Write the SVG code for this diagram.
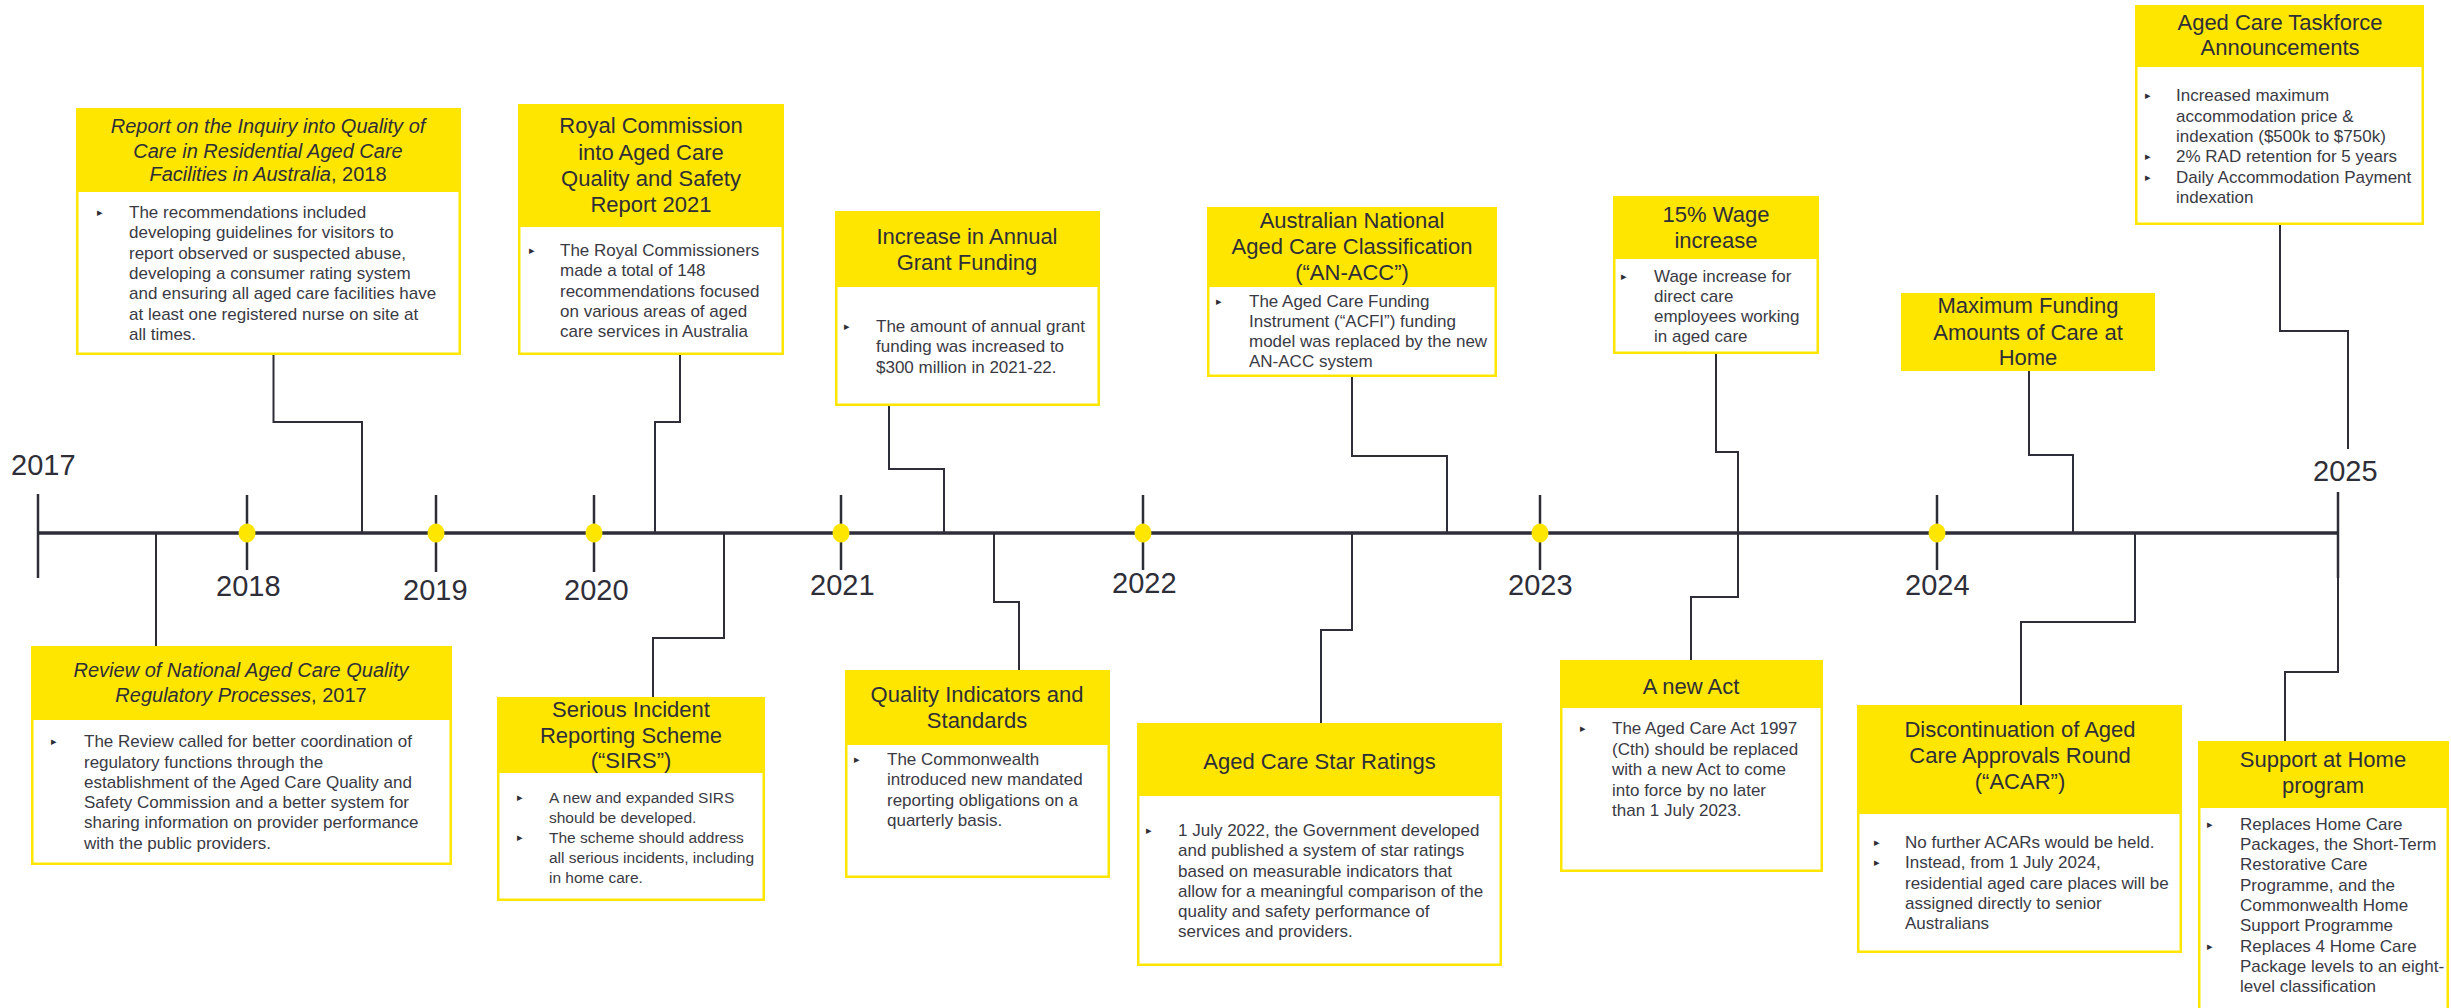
<svg xmlns="http://www.w3.org/2000/svg" width="2451" height="1008" viewBox="0 0 2451 1008">
<style>
.hdr{fill:#FFE600}
.bd{fill:#FFFFFF}
.t{font-family:"Liberation Sans",Arial,sans-serif;font-size:22px;fill:#2E2E38;text-anchor:middle}
.ti{font-family:"Liberation Sans",Arial,sans-serif;font-size:20px;fill:#2E2E38;text-anchor:middle;font-style:italic}
.b{font-family:"Liberation Sans",Arial,sans-serif;font-size:17px;fill:#3A3A44}
.bs{font-size:15.5px}
.bul{font-family:"DejaVu Sans",sans-serif;font-size:11px;fill:#2E2E38}
.yr{font-family:"Liberation Sans",Arial,sans-serif;font-size:29px;fill:#2E2E38}
.ln{fill:none;stroke:#2E2E38;stroke-width:2}
.axis{fill:none;stroke:#2E2E38;stroke-width:3.5}
.tick{fill:none;stroke:#2E2E38;stroke-width:2.5}
.dot{fill:#FFE600}
</style>
<rect width="2451" height="1008" fill="#FFFFFF"/>

<g id="timeline">
<line class="axis" x1="38" y1="533" x2="2338" y2="533"/>
<line class="tick" x1="38" y1="494" x2="38" y2="578"/>
<line class="tick" x1="2338" y1="492" x2="2338" y2="578"/>
<line class="tick" x1="247" y1="495" x2="247" y2="570"/>
<line class="tick" x1="436" y1="495" x2="436" y2="572"/>
<line class="tick" x1="594" y1="495" x2="594" y2="572"/>
<line class="tick" x1="841" y1="495" x2="841" y2="570"/>
<line class="tick" x1="1143" y1="495" x2="1143" y2="570"/>
<line class="tick" x1="1540" y1="495" x2="1540" y2="570"/>
<line class="tick" x1="1937" y1="495" x2="1937" y2="570"/>
<ellipse class="dot" cx="247" cy="533" rx="8.5" ry="9.5"/>
<ellipse class="dot" cx="436" cy="533" rx="8.5" ry="9.5"/>
<ellipse class="dot" cx="594" cy="533" rx="8.5" ry="9.5"/>
<ellipse class="dot" cx="841" cy="533" rx="8.5" ry="9.5"/>
<ellipse class="dot" cx="1143" cy="533" rx="8.5" ry="9.5"/>
<ellipse class="dot" cx="1540" cy="533" rx="8.5" ry="9.5"/>
<ellipse class="dot" cx="1937" cy="533" rx="8.5" ry="9.5"/>
<text class="yr" x="11" y="475">2017</text>
<text class="yr" x="216" y="596">2018</text>
<text class="yr" x="403" y="600">2019</text>
<text class="yr" x="564" y="600">2020</text>
<text class="yr" x="810" y="595">2021</text>
<text class="yr" x="1112" y="593">2022</text>
<text class="yr" x="1508" y="595">2023</text>
<text class="yr" x="1905" y="595">2024</text>
<text class="yr" x="2313" y="481">2025</text>
</g>

<g id="connectors">
<path class="ln" d="M273.5 355 V422 H362 V533"/>
<path class="ln" d="M680 355 V422 H655 V533"/>
<path class="ln" d="M889 406 V469 H944 V533"/>
<path class="ln" d="M1352 377 V456 H1447 V533"/>
<path class="ln" d="M1716 354 V452 H1738 V533"/>
<path class="ln" d="M2029 371 V455 H2073 V533"/>
<path class="ln" d="M2280 225 V331 H2348 V449"/>
<path class="ln" d="M156 533 V646"/>
<path class="ln" d="M724 533 V638 H653 V697"/>
<path class="ln" d="M994 533 V602 H1019 V670"/>
<path class="ln" d="M1352 533 V630 H1321 V723"/>
<path class="ln" d="M1738 533 V597 H1691 V660"/>
<path class="ln" d="M2135 533 V622 H2021 V705"/>
<path class="ln" d="M2338 533 V672 H2285 V741"/>
</g>

<g id="node-inquiry-2018">
<rect class="hdr" x="76" y="108" width="385" height="247"/>
<rect class="bd" x="78.5" y="192" width="380" height="160.5"/>
<text class="ti" x="268" y="133">Report on the Inquiry into Quality of</text>
<text class="ti" x="268" y="158">Care in Residential Aged Care</text>
<text class="ti" x="268" y="181">Facilities in Australia<tspan font-style="normal">, 2018</tspan></text>
<text class="bul" x="97" y="216">▸</text>
<text class="b" x="129"><tspan x="129" y="218">The recommendations included</tspan><tspan x="129" y="238">developing guidelines for visitors to</tspan><tspan x="129" y="259">report observed or suspected abuse,</tspan><tspan x="129" y="279">developing a consumer rating system</tspan><tspan x="129" y="299">and ensuring all aged care facilities have</tspan><tspan x="129" y="320">at least one registered nurse on site at</tspan><tspan x="129" y="340">all times.</tspan></text>
</g>

<g id="node-royal-commission">
<rect class="hdr" x="518" y="104" width="266" height="251"/>
<rect class="bd" x="520.5" y="227" width="261" height="125.5"/>
<text class="t" x="651" y="133">Royal Commission</text>
<text class="t" x="651" y="160">into Aged Care</text>
<text class="t" x="651" y="186">Quality and Safety</text>
<text class="t" x="651" y="212">Report 2021</text>
<text class="bul" x="529" y="254">▸</text>
<text class="b"><tspan x="560" y="256">The Royal Commissioners</tspan><tspan x="560" y="276">made a total of 148</tspan><tspan x="560" y="297">recommendations focused</tspan><tspan x="560" y="317">on various areas of aged</tspan><tspan x="560" y="337">care services in Australia</tspan></text>
</g>

<g id="node-grant-funding">
<rect class="hdr" x="835" y="211" width="265" height="195"/>
<rect class="bd" x="837.5" y="287" width="260" height="116.5"/>
<text class="t" x="967" y="244">Increase in Annual</text>
<text class="t" x="967" y="270">Grant Funding</text>
<text class="bul" x="844" y="330">▸</text>
<text class="b"><tspan x="876" y="332">The amount of annual grant</tspan><tspan x="876" y="352">funding was increased to</tspan><tspan x="876" y="373">$300 million in 2021-22.</tspan></text>
</g>

<g id="node-an-acc">
<rect class="hdr" x="1207" y="207" width="290" height="170"/>
<rect class="bd" x="1209.5" y="287" width="285" height="87.5"/>
<text class="t" x="1352" y="228">Australian National</text>
<text class="t" x="1352" y="254">Aged Care Classification</text>
<text class="t" x="1352" y="280">(“AN-ACC”)</text>
<text class="bul" x="1216" y="305">▸</text>
<text class="b"><tspan x="1249" y="307">The Aged Care Funding</tspan><tspan x="1249" y="327">Instrument (“ACFI”) funding</tspan><tspan x="1249" y="347">model was replaced by the new</tspan><tspan x="1249" y="367">AN-ACC system</tspan></text>
</g>

<g id="node-wage-increase">
<rect class="hdr" x="1613" y="196" width="206" height="158"/>
<rect class="bd" x="1615.5" y="259" width="201" height="92.5"/>
<text class="t" x="1716" y="222">15% Wage</text>
<text class="t" x="1716" y="248">increase</text>
<text class="bul" x="1621" y="280">▸</text>
<text class="b"><tspan x="1654" y="282">Wage increase for</tspan><tspan x="1654" y="302">direct care</tspan><tspan x="1654" y="322">employees working</tspan><tspan x="1654" y="342">in aged care</tspan></text>
</g>

<g id="node-max-funding">
<rect class="hdr" x="1901" y="293" width="254" height="78"/>
<text class="t" x="2028" y="313">Maximum Funding</text>
<text class="t" x="2028" y="340">Amounts of Care at</text>
<text class="t" x="2028" y="365">Home</text>
</g>

<g id="node-taskforce">
<rect class="hdr" x="2135" y="5" width="289" height="220"/>
<rect class="bd" x="2137.5" y="67" width="284" height="155.5"/>
<text class="t" x="2280" y="30">Aged Care Taskforce</text>
<text class="t" x="2280" y="55">Announcements</text>
<text class="bul" x="2145" y="99">▸</text>
<text class="bul" x="2145" y="160">▸</text>
<text class="bul" x="2145" y="181">▸</text>
<text class="b"><tspan x="2176" y="101">Increased maximum</tspan><tspan x="2176" y="122">accommodation price &amp;</tspan><tspan x="2176" y="142">indexation ($500k to $750k)</tspan><tspan x="2176" y="162">2% RAD retention for 5 years</tspan><tspan x="2176" y="183">Daily Accommodation Payment</tspan><tspan x="2176" y="203">indexation</tspan></text>
</g>

<g id="node-review-2017">
<rect class="hdr" x="31" y="646" width="421" height="219"/>
<rect class="bd" x="33.5" y="720" width="416" height="142.5"/>
<text class="ti" x="241" y="677">Review of National Aged Care Quality</text>
<text class="ti" x="241" y="702">Regulatory Processes<tspan font-style="normal">, 2017</tspan></text>
<text class="bul" x="51" y="745">▸</text>
<text class="b"><tspan x="84" y="747">The Review called for better coordination of</tspan><tspan x="84" y="768">regulatory functions through the</tspan><tspan x="84" y="788">establishment of the Aged Care Quality and</tspan><tspan x="84" y="808">Safety Commission and a better system for</tspan><tspan x="84" y="828">sharing information on provider performance</tspan><tspan x="84" y="849">with the public providers.</tspan></text>
</g>

<g id="node-sirs">
<rect class="hdr" x="497" y="697" width="268" height="204"/>
<rect class="bd" x="499.5" y="773" width="263" height="125.5"/>
<text class="t" x="631" y="717">Serious Incident</text>
<text class="t" x="631" y="743">Reporting Scheme</text>
<text class="t" x="631" y="768">(“SIRS”)</text>
<text class="bul" x="517" y="801">▸</text>
<text class="bul" x="517" y="841">▸</text>
<text class="b bs"><tspan x="549" y="803">A new and expanded SIRS</tspan><tspan x="549" y="823">should be developed.</tspan><tspan x="549" y="843">The scheme should address</tspan><tspan x="549" y="863">all serious incidents, including</tspan><tspan x="549" y="883">in home care.</tspan></text>
</g>

<g id="node-quality-indicators">
<rect class="hdr" x="845" y="670" width="265" height="208"/>
<rect class="bd" x="847.5" y="745" width="260" height="130.5"/>
<text class="t" x="977" y="702">Quality Indicators and</text>
<text class="t" x="977" y="728">Standards</text>
<text class="bul" x="854" y="763">▸</text>
<text class="b"><tspan x="887" y="765">The Commonwealth</tspan><tspan x="887" y="785">introduced new mandated</tspan><tspan x="887" y="806">reporting obligations on a</tspan><tspan x="887" y="826">quarterly basis.</tspan></text>
</g>

<g id="node-star-ratings">
<rect class="hdr" x="1137" y="723" width="365" height="243"/>
<rect class="bd" x="1139.5" y="796" width="360" height="167.5"/>
<text class="t" x="1319.5" y="769" fill="#1A1A24">Aged Care Star Ratings</text>
<text class="bul" x="1146" y="834">▸</text>
<text class="b"><tspan x="1178" y="836">1 July 2022, the Government developed</tspan><tspan x="1178" y="856">and published a system of star ratings</tspan><tspan x="1178" y="877">based on measurable indicators that</tspan><tspan x="1178" y="897">allow for a meaningful comparison of the</tspan><tspan x="1178" y="917">quality and safety performance of</tspan><tspan x="1178" y="937">services and providers.</tspan></text>
</g>

<g id="node-new-act">
<rect class="hdr" x="1560" y="660" width="263" height="212"/>
<rect class="bd" x="1562.5" y="708" width="258" height="161.5"/>
<text class="t" x="1691" y="694">A new Act</text>
<text class="bul" x="1580" y="732">▸</text>
<text class="b"><tspan x="1612" y="734">The Aged Care Act 1997</tspan><tspan x="1612" y="755">(Cth) should be replaced</tspan><tspan x="1612" y="775">with a new Act to come</tspan><tspan x="1612" y="796">into force by no later</tspan><tspan x="1612" y="816">than 1 July 2023.</tspan></text>
</g>

<g id="node-acar">
<rect class="hdr" x="1857" y="705" width="325" height="248"/>
<rect class="bd" x="1859.5" y="814" width="320" height="136.5"/>
<text class="t" x="2020" y="737">Discontinuation of Aged</text>
<text class="t" x="2020" y="763">Care Approvals Round</text>
<text class="t" x="2020" y="789">(“ACAR”)</text>
<text class="bul" x="1874" y="846">▸</text>
<text class="bul" x="1874" y="866">▸</text>
<text class="b"><tspan x="1905" y="848">No further ACARs would be held.</tspan><tspan x="1905" y="868">Instead, from 1 July 2024,</tspan><tspan x="1905" y="889">residential aged care places will be</tspan><tspan x="1905" y="909">assigned directly to senior</tspan><tspan x="1905" y="929">Australians</tspan></text>
</g>

<g id="node-support-at-home">
<rect class="hdr" x="2198" y="741" width="251" height="272"/>
<rect class="bd" x="2200.5" y="808" width="246" height="205"/>
<text class="t" x="2323" y="767">Support at Home</text>
<text class="t" x="2323" y="793">program</text>
<text class="bul" x="2207" y="828">▸</text>
<text class="bul" x="2207" y="950">▸</text>
<text class="b"><tspan x="2240" y="830">Replaces Home Care</tspan><tspan x="2240" y="850">Packages, the Short-Term</tspan><tspan x="2240" y="870">Restorative Care</tspan><tspan x="2240" y="891">Programme, and the</tspan><tspan x="2240" y="911">Commonwealth Home</tspan><tspan x="2240" y="931">Support Programme</tspan><tspan x="2240" y="952">Replaces 4 Home Care</tspan><tspan x="2240" y="972">Package levels to an eight-</tspan><tspan x="2240" y="992">level classification</tspan></text>
</g>
</svg>
